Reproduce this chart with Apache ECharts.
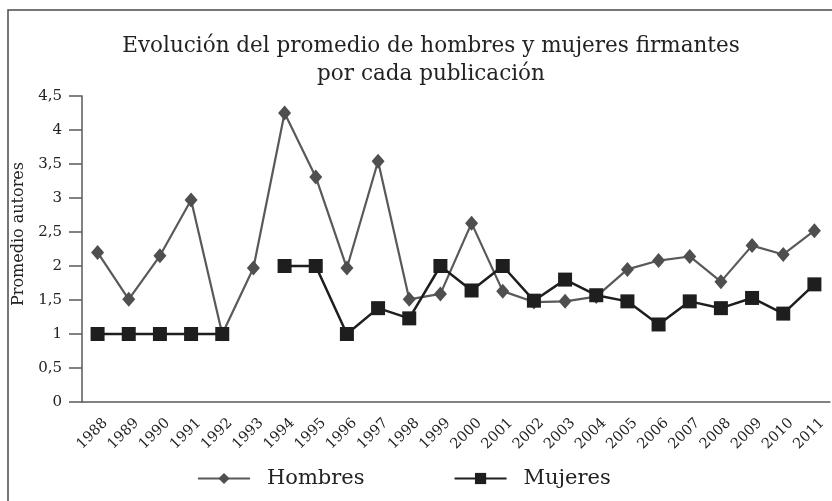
<!DOCTYPE html>
<html>
<head>
<meta charset="utf-8">
<script src="https://cdn.jsdelivr.net/npm/echarts@6/dist/echarts.min.js"></script>
<style>
  html, body { margin: 0; padding: 0; background: #fff; }
  #chart { width: 832px; height: 501px; }
</style>
</head>
<body>
<div id="chart"></div>
<script>
const years = ["1988", "1989", "1990", "1991", "1992", "1993", "1994", "1995", "1996", "1997", "1998", "1999",
  "2000", "2001", "2002", "2003", "2004", "2005", "2006", "2007", "2008", "2009", "2010", "2011"];

const hombres = [2.2, 1.51, 2.15, 2.97, 1.0, 1.97, 4.25, 3.31, 1.97, 3.54, 1.51, 1.59,
  2.63, 1.63, 1.47, 1.48, 1.55, 1.95, 2.08, 2.14, 1.77, 2.3, 2.17, 2.52];

const mujeres = [1, 1, 1, 1, 1, null, 2, 2, 1, 1.38, 1.23, 2,
  1.64, 2, 1.49, 1.8, 1.57, 1.48, 1.14, 1.48, 1.38, 1.53, 1.3, 1.73];

const yTicks = ["0", "0,5", "1", "1,5", "2", "2,5", "3", "3,5", "4", "4,5"];

const serif = "DejaVu Serif";
const axisColor = "#5a5a5a";
const textColor = "#222";

const chart = echarts.init(document.getElementById("chart"));

const option = {
  animation: false,
  title: {
    text: "Evolución del promedio de hombres y mujeres firmantes\npor cada publicación",
    left: 426,
    top: 27,
    textAlign: "center",
    textStyle: { fontFamily: serif, fontSize: 21.5, fontWeight: "normal", color: textColor, lineHeight: 28 }
  },
  legend: {
    left: 192,
    top: 463,
    itemWidth: 52,
    itemHeight: 14,
    itemGap: 89,
    textStyle: { fontFamily: serif, fontSize: 21, color: textColor, padding: [0, 0, 0, 12] },
    data: ["Hombres", "Mujeres"]
  },
  grid: { left: 82, right: -2, top: 96, bottom: 99 },
  xAxis: {
    type: "category",
    data: years,
    boundaryGap: true,
    axisLine: { lineStyle: { color: axisColor, width: 1.5 } },
    axisTick: { show: false },
    axisLabel: {
      rotate: 45,
      margin: 11,
      verticalAlign: "top",
      lineHeight: 22,
      fontFamily: serif,
      fontSize: 14.5,
      color: textColor,
      interval: 0
    }
  },
  yAxis: {
    type: "value",
    min: 0,
    max: 4.5,
    interval: 0.5,
    name: "Promedio autores",
    nameLocation: "middle",
    nameGap: 48,
    nameTextStyle: { fontFamily: serif, fontSize: 16, color: textColor, padding: [0, 0, 0, 30] },
    axisLine: { show: true, lineStyle: { color: axisColor, width: 1.5 } },
    axisTick: { show: true, length: 13, lineStyle: { color: axisColor, width: 1.5 } },
    splitLine: { show: false },
    axisLabel: {
      margin: 20,
      fontFamily: serif,
      fontSize: 15,
      color: textColor,
      formatter: (v) => yTicks[Math.round(v / 0.5)]
    }
  },
  series: [
    {
      name: "Hombres",
      type: "line",
      data: hombres,
      symbol: "diamond",
      symbolSize: [13, 15],
      itemStyle: { color: "#4f4f4f" },
      lineStyle: { color: "#595959", width: 2.2 },
      z: 2
    },
    {
      name: "Mujeres",
      type: "line",
      data: mujeres,
      symbol: "rect",
      symbolSize: 14,
      connectNulls: false,
      itemStyle: { color: "#1e1e1e" },
      lineStyle: { color: "#1e1e1e", width: 2.5 },
      z: 3
    }
  ],
  graphic: [
    {
      type: "polyline",
      shape: { points: [[8, 501], [8, 10], [832, 10]] },
      style: { stroke: "#4a4a4a", lineWidth: 1.5, fill: null }
    }
  ]
};

chart.setOption(option);
</script>
</body>
</html>
